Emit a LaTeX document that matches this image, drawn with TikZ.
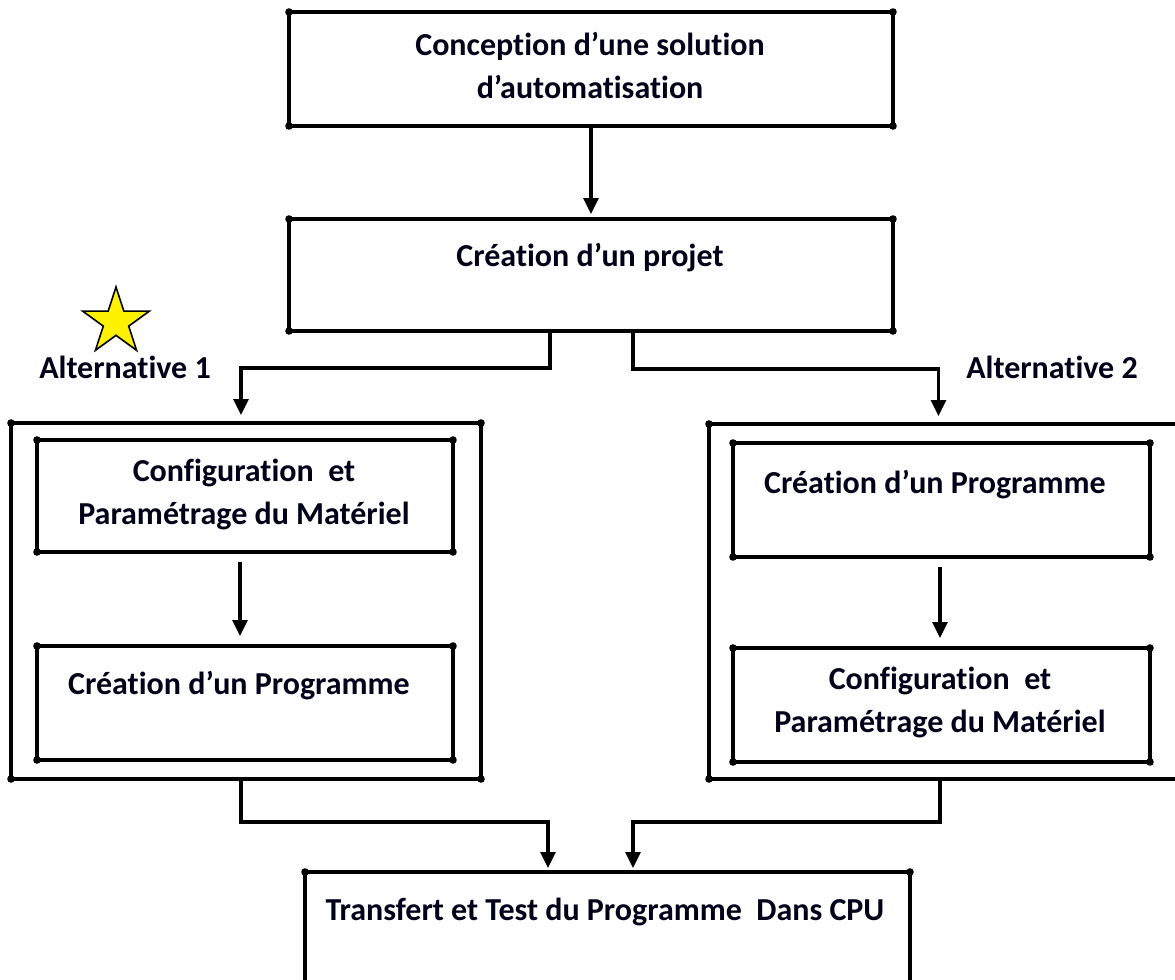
\documentclass[tikz,border=0pt]{standalone}
\usepackage{fontspec}
\setmainfont[Ligatures=NoCommon]{Carlito}
\usetikzlibrary{shapes.geometric,arrows.meta}
\begin{document}
\begin{tikzpicture}[x=0.5pt,y=-0.5pt,
  box/.style={draw,line width=2pt,rectangle,outer sep=0pt,inner sep=0pt,anchor=north west},
  lbl/.style={font=\bfseries\fontsize{16}{21.5}\selectfont,inner sep=0pt,align=center,text=black!90!blue},
  conn/.style={line width=1.6pt,-{Triangle[width=7.5pt,length=8pt]}},
  dot/.style={fill=black}
]
\clip (0,0) rectangle (1175,980);
\fill[white] (0,0) rectangle (1175,980);

% boxes
\node[box,minimum width=302pt,minimum height=57pt] (A) at (289,12) {};
\node[box,minimum width=302pt,minimum height=56pt] (B) at (289,219) {};
\node[box,minimum width=235pt,minimum height=178pt] (L) at (11,423) {};
\node[box,minimum width=208pt,minimum height=56pt] (L1) at (37,440) {};
\node[box,minimum width=208pt,minimum height=57pt] (L2) at (37,646) {};
\node[box,minimum width=240.5pt,minimum height=177.5pt] (R) at (709,424) {};
\node[box,minimum width=208.5pt,minimum height=57pt] (R1) at (733,443) {};
\node[box,minimum width=208.5pt,minimum height=57pt] (R2) at (733,648) {};
\node[box,minimum width=302.5pt,minimum height=64pt] (T) at (305,872) {};

\foreach \n in {A,B,L,L1,L2,R,R1,R2,T}
  \foreach \c in {north west,north east,south west,south east}
    \fill[dot] (\n.\c) circle (1.9pt);

% labels
\node[lbl] (tA) at (590,65) {Conception d’une solution\\d’automatisation};
\node[lbl] (tB) at (590,258) {Création d’un projet};
\node[lbl] (tL1) at (244,494) {Configuration\ \ et\\Paramétrage du Matériel};
\node[lbl] (tL2) at (239,686) {Création d’un Programme};
\node[lbl] (tR1) at (935,485) {Création d’un Programme};
\node[lbl] (tR2) at (940,702) {Configuration\ \ et\\Paramétrage du Matériel};
\node[lbl] (tT) at (605,912) {Transfert et Test du Programme\ \ Dans CPU};
\node[lbl] (alt1) at (125,367) {Alternative 1};
\node[lbl] (alt2) at (1052,367) {Alternative 2};

% star
\node[star,star points=5,star point ratio=2.618,minimum size=35pt,inner sep=0pt,
      draw=black,line width=0.8pt,fill=yellow] (star) at (116,322) {};

% connectors
\draw[conn,shorten >=2.5pt] (A.south) -- (B.north);
\draw[conn,shorten >=4pt] ([xshift=-20.5pt]B.south) -- ++(0,37) -| ([xshift=-2.5pt]L.north);
\draw[conn,shorten >=4pt] ([xshift=21pt]B.south) -- ++(0,38) -| ([xshift=-5.5pt]R.north);
\draw[conn,shorten <=5pt,shorten >=5pt] ([xshift=-2.5pt]L1.south) -- ([xshift=-2.5pt]L2.north);
\draw[conn,shorten <=5pt,shorten >=5pt] ([xshift=-0.75pt]R1.south) -- ([xshift=-0.75pt]R2.north);
\draw[conn,shorten >=2pt] ([xshift=-2.5pt]L.south) -- ++(0,43) -| ([xshift=-29.75pt]T.north);
\draw[conn,shorten >=2pt] ([xshift=-4.75pt]R.south) -- ++(0,43) -| ([xshift=12.75pt]T.north);
\end{tikzpicture}
\end{document}
